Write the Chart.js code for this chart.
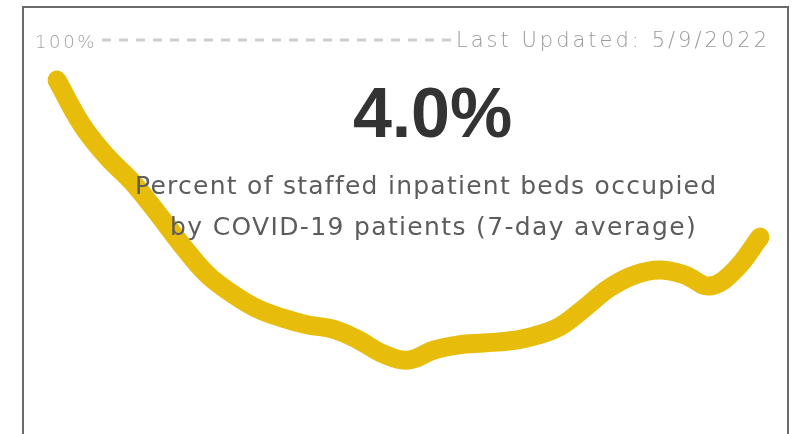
<!DOCTYPE html>
<html>
<head>
<meta charset="utf-8">
<title>COVID-19 staffed inpatient beds</title>
<script src="https://cdn.jsdelivr.net/npm/chart.js@4.4.1/dist/chart.umd.min.js"></script>
<style>
  html, body { margin: 0; padding: 0; background: #fff; overflow: hidden; }
  #wrap { position: relative; width: 797px; height: 434px; }
</style>
</head>
<body>
<div id="wrap"><canvas id="chart" width="797" height="434"></canvas></div>
<script>
// valores (escala relativa, 100 = linha de referência)
const semanas = ['1','2','3','4','5','6','7','8','9','10','11','12','13','14','15',
  '16','17','18','19','20','21','22','23','24','25','26','27','28','29'];
const ocupacao = [89.5, 77.7, 69.4, 62.8, 54.7, 46.1, 38.5, 33.5, 29.6, 27.2, 25.4, 24.3,
  21.5, 17.8, 16.2, 18.8, 20.2, 20.7, 21.2, 22.5, 24.9, 29.8, 35.1, 38.5, 39.8, 38.5,
  35.6, 39.8, 48.4];
const referencia = 100;
const valorAtual = '4.0%';
const rotuloRef = '100%';
const atualizado = 'Last Updated: 5/9/2022';
const subtitulo = ['Percent of staffed inpatient beds occupied', 'by COVID-19 patients (7-day average)'];

// desenha texto ajustando o espaçamento para ocupar a largura desejada
function textoAjustado(ctx, txt, x, y, largura) {
  ctx.textAlign = 'left';
  const w = ctx.measureText(txt).width;
  if ('letterSpacing' in ctx) {
    ctx.letterSpacing = ((largura - w) / txt.length) + 'px';
    ctx.fillText(txt, x, y);
    ctx.letterSpacing = '0px';
  } else {
    ctx.save();
    ctx.translate(x, y);
    ctx.scale(largura / w, 1);
    ctx.fillText(txt, 0, 0);
    ctx.restore();
  }
}

const moldura = {
  id: 'moldura',
  beforeDraw(chart) {
    const ctx = chart.ctx;
    ctx.save();
    ctx.fillStyle = '#fff';
    ctx.fillRect(0, 0, chart.width, chart.height);
    ctx.strokeStyle = '#6a6a6a';
    ctx.lineWidth = 2;
    ctx.strokeRect(23, 7, 765, 460);
    ctx.restore();
  },
  afterDraw(chart) {
    const ctx = chart.ctx;
    const y100 = chart.scales.y.getPixelForValue(referencia);
    ctx.save();
    // linha tracejada de 100%
    ctx.strokeStyle = '#cdcdcd';
    ctx.lineWidth = 3;
    ctx.setLineDash([9, 8]);
    ctx.beginPath();
    ctx.moveTo(102, y100);
    ctx.lineTo(452, y100);
    ctx.stroke();
    ctx.setLineDash([]);

    ctx.textBaseline = 'alphabetic';
    ctx.fillStyle = '#a3a3a3';
    ctx.font = '200 18px "DejaVu Sans"';
    textoAjustado(ctx, rotuloRef, 35, y100 + 8, 62);

    ctx.fillStyle = '#999';
    ctx.font = '200 21px "DejaVu Sans"';
    textoAjustado(ctx, atualizado, 456, y100 + 7, 314);

    ctx.fillStyle = '#333';
    ctx.font = 'bold 70px "Liberation Sans"';
    textoAjustado(ctx, valorAtual, 353, 137, 159);

    ctx.fillStyle = '#5c5c5c';
    ctx.font = '25px "DejaVu Sans"';
    textoAjustado(ctx, subtitulo[0], 135, 194, 582);
    textoAjustado(ctx, subtitulo[1], 170, 235, 527);
    ctx.restore();
  }
};

new Chart(document.getElementById('chart'), {
  type: 'line',
  data: {
    labels: semanas,
    datasets: [{
      data: ocupacao,
      borderColor: '#e8bc0b',
      borderWidth: 19,
      borderCapStyle: 'round',
      borderJoinStyle: 'round',
      tension: 0.4,
      pointRadius: 0,
      fill: false
    }]
  },
  options: {
    responsive: false,
    animation: false,
    layout: { padding: { left: 57, right: 37, top: 40, bottom: 12 } },
    plugins: { legend: { display: false }, tooltip: { enabled: false } },
    scales: {
      x: { display: false },
      y: { display: false, min: 0, max: referencia }
    }
  },
  plugins: [moldura]
});
</script>
</body>
</html>
